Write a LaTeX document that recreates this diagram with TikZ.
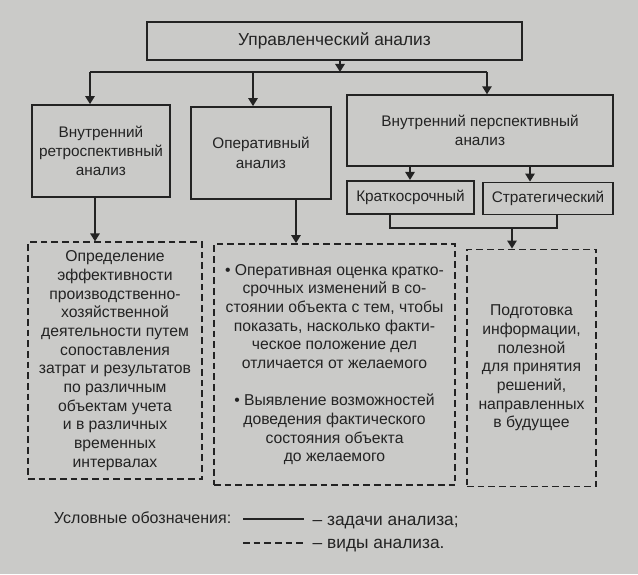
\documentclass[tikz,border=0pt]{standalone}
\usepackage{fontspec}
\setmainfont{Liberation Sans}
\usetikzlibrary{arrows.meta}
\definecolor{bg}{RGB}{202,202,200}
\definecolor{ink}{RGB}{35,35,35}
\begin{document}
\begin{tikzpicture}[x=0.75pt,y=-0.75pt,
  box/.style={draw=ink,line width=1.3pt,align=center,inner sep=2pt,font=\fontsize{11.5}{14.5}\selectfont,text=ink},
  dbox/.style={draw=ink,line width=1.1pt,dash pattern=on 5pt off 3pt,align=center,inner sep=2pt,font=\fontsize{11.8}{14}\selectfont,text=ink},
  con/.style={draw=ink,line width=1.3pt},
  arr/.style={con,-{Triangle[width=7pt,length=6pt]}}]
\fill[bg] (0,0) rectangle (638,574);
\useasboundingbox (0,0) rectangle (638,574);
\node[box,font=\fontsize{13}{15}\selectfont,minimum width=281pt,minimum height=28.5pt] (top) at (334.5,41) {Управленческий анализ};
\node[box,minimum width=103.5pt,minimum height=69pt] (b1) at (101,151) {Внутренний\\ретроспективный\\анализ};
\node[box,minimum width=105pt,minimum height=69pt] (b2) at (261,153) {Оперативный\\анализ};
\node[box,minimum width=199.5pt,minimum height=53pt] (b3) at (480,130.5) {Внутренний перспективный\\анализ};
\node[box,minimum width=95pt,minimum height=25pt] (k) at (410.5,197.5) {Краткосрочный};
\node[box,minimum width=97.5pt,minimum height=24pt] (s) at (548,198.5) {Стратегический};
\node[dbox,minimum width=130.5pt,minimum height=177.5pt] (d1) at (115,360.5) {Определение\\эффективности\\производственно-\\хозяйственной\\деятельности путем\\сопоставления\\затрат и результатов\\по различным\\объектам учета\\и в различных\\временных\\интервалах};
\node[dbox,minimum width=181pt,minimum height=181pt] (d2) at (334.5,364.5) {\textbullet\ Оперативная оценка кратко-\\срочных изменений в со-\\стоянии объекта с тем, чтобы\\показать, насколько факти-\\ческое положение дел\\отличается от желаемого\\[14pt]\textbullet\ Выявление возможностей\\доведения фактического\\состояния объекта\\до желаемого};
\node[dbox,minimum width=97pt,minimum height=178pt] (d3) at (531.5,368) {Подготовка\\информации,\\полезной\\для принятия\\решений,\\направленных\\в будущее};
% connectors
\coordinate (j) at (340,72);
\draw[arr] (top.south -| j) -- (j);
\draw[con] (90,72) -- (487,72);
\draw[arr] (90,72) -- (b1.north -| 90,0);
\draw[arr] (253,72) -- (b2.north -| 253,0);
\draw[arr] (487,72) -- (b3.north -| 487,0);
\draw[arr] (b3.south -| 410,0) -- (k.north -| 410,0);
\draw[arr] (b3.south -| 530,0) -- (s.north -| 530,0);
\draw[con] (k.south -| 390,0) -- (390,228) -- (557,228) -- (s.south -| 557,0);
\draw[arr] (512,228) -- (d3.north -| 512,0);
\draw[arr] (b1.south -| 95,0) -- (d1.north -| 95,0);
\draw[arr] (b2.south -| 296,0) -- (d2.north -| 296,0);
% legend
\node[anchor=east,font=\fontsize{12}{14}\selectfont,text=ink] (lg) at (236,518) {Условные обозначения:};
\coordinate (l1a) at (243,519); \coordinate (l1b) at (304,519);
\draw[con] (l1a) -- (l1b);
\node[anchor=west,font=\fontsize{13}{14}\selectfont,text=ink] (t1) at (308,523) {– задачи анализа;};
\coordinate (l2a) at (243,543); \coordinate (l2b) at (304,543);
\draw[con,dash pattern=on 5pt off 3pt] (l2a) -- (l2b);
\node[anchor=west,font=\fontsize{13}{14}\selectfont,text=ink] (t2) at (308,546) {– виды анализа.};
\end{tikzpicture}
\end{document}
